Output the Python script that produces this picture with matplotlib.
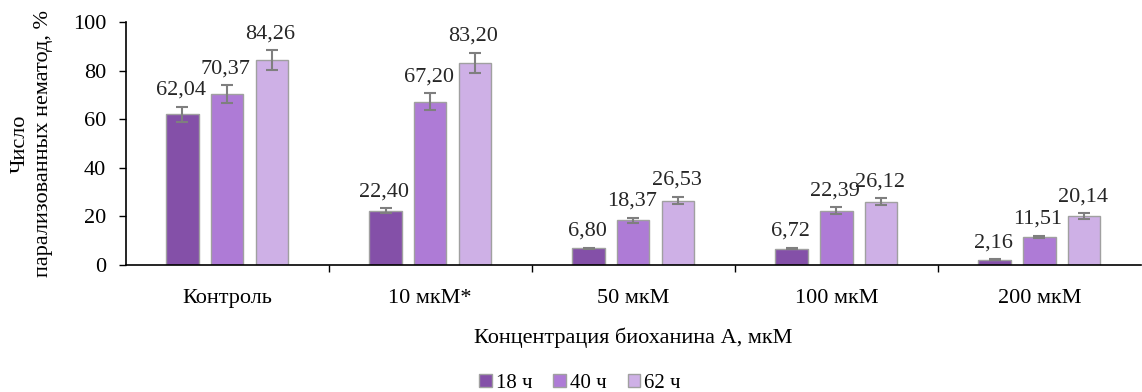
import numpy as np
import matplotlib.pyplot as plt

plt.rcParams['font.family'] = ['Liberation Serif', 'DejaVu Serif']

categories = ['Контроль', '10 мкМ*', '50 мкМ', '100 мкМ', '200 мкМ']
series_names = ['18 ч', '40 ч', '62 ч']
vals_18 = [62.04, 22.40, 6.80, 6.72, 2.16]
vals_40 = [70.37, 67.20, 18.37, 22.39, 11.51]
vals_62 = [84.26, 83.20, 26.53, 26.12, 20.14]
err_18 = [3.1, 1.0, 0.3, 0.3, 0.2]
err_40 = [3.6, 3.5, 1.0, 1.3, 0.6]
err_62 = [4.2, 4.2, 1.5, 1.4, 1.2]

colors = ['#8450a8', '#ae7bd6', '#ceb0e6']

fig = plt.figure(figsize=(11.42, 3.92), dpi=100)
ax = fig.add_axes([0.110, 0.324, 0.889, 0.620])

x = np.arange(len(categories))
width = 0.16
offsets = [-0.22, 0.0, 0.22]
series = [vals_18, vals_40, vals_62]
errors = [err_18, err_40, err_62]

for vals, errs, off, col, name in zip(series, errors, offsets, colors, series_names):
    ax.bar(x + off, vals, width, color=col, edgecolor='#a0a0a0', linewidth=1,
           label=name, zorder=2)
    ax.errorbar(x + off, vals, yerr=errs, fmt='none', ecolor='#7f7f7f',
                elinewidth=1.5, capsize=4, capthick=1.5, zorder=3)
    for xi, v, e in zip(x + off, vals, errs):
        ax.annotate(f'{v:.2f}'.replace('.', ','), (xi, v + e),
                    xytext=(-1, 5), textcoords='offset points',
                    ha='center', va='bottom', fontsize=16, color='#262626')

ax.set_xlim(-0.5, len(categories) - 0.5)
ax.set_ylim(0, 100)
ax.set_yticks(range(0, 101, 20))
ax.tick_params(axis='y', labelsize=16, direction='out', length=5, width=1, pad=9)
ax.set_xticks(np.arange(0.5, len(categories) - 0.5, 1.0))
ax.set_xticklabels([])
ax.tick_params(axis='x', direction='out', length=5, width=1)
ax.set_xticks(x, minor=True)
ax.set_xticklabels(categories, minor=True)
ax.tick_params(axis='x', which='minor', length=0, labelsize=16, pad=17)

for side in ['top', 'right']:
    ax.spines[side].set_visible(False)
for side in ['left', 'bottom']:
    ax.spines[side].set_linewidth(1.2)

ax.set_xlabel('Концентрация биоханина А, мкМ', fontsize=16, labelpad=14)
ax.set_ylabel('Число\nпарализованных нематод, %', fontsize=16, labelpad=14,
              linespacing=1.35)

fig.legend(loc='lower center', bbox_to_anchor=(0.508, -0.05), ncol=3,
           frameon=False, fontsize=15, handlelength=0.6, handleheight=0.6,
           handletextpad=0.2, columnspacing=1.0)

fig.savefig('out.png', dpi=100)
